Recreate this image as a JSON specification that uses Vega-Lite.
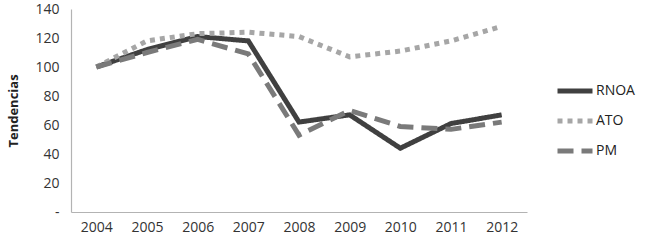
{
  "$schema": "https://vega.github.io/schema/vega-lite/v6.json",
  "autosize": {"type": "none"},
  "padding": {"left": 71, "top": 9, "right": 123, "bottom": 29},
  "width": 456,
  "height": 203,
  "background": "white",
  "config": {
    "view": {"stroke": null},
    "font": "Open Sans",
    "axis": {"grid": false, "ticks": false, "domainColor": "#b3b3b3", "domainWidth": 1.2, "labelColor": "#333333", "labelFontSize": 14, "labelFont": "Open Sans"}
  },
  "data": {
    "values": [
      {"year": "2004", "serie": "RNOA", "v": 100},
      {"year": "2005", "serie": "RNOA", "v": 112},
      {"year": "2006", "serie": "RNOA", "v": 121},
      {"year": "2007", "serie": "RNOA", "v": 118},
      {"year": "2008", "serie": "RNOA", "v": 62},
      {"year": "2009", "serie": "RNOA", "v": 67},
      {"year": "2010", "serie": "RNOA", "v": 44},
      {"year": "2011", "serie": "RNOA", "v": 61},
      {"year": "2012", "serie": "RNOA", "v": 67},
      {"year": "2004", "serie": "ATO", "v": 100},
      {"year": "2005", "serie": "ATO", "v": 118},
      {"year": "2006", "serie": "ATO", "v": 123},
      {"year": "2007", "serie": "ATO", "v": 124},
      {"year": "2008", "serie": "ATO", "v": 121},
      {"year": "2009", "serie": "ATO", "v": 107},
      {"year": "2010", "serie": "ATO", "v": 111},
      {"year": "2011", "serie": "ATO", "v": 118},
      {"year": "2012", "serie": "ATO", "v": 128},
      {"year": "2004", "serie": "PM", "v": 100},
      {"year": "2005", "serie": "PM", "v": 110},
      {"year": "2006", "serie": "PM", "v": 119},
      {"year": "2007", "serie": "PM", "v": 109},
      {"year": "2008", "serie": "PM", "v": 53},
      {"year": "2009", "serie": "PM", "v": 70},
      {"year": "2010", "serie": "PM", "v": 59},
      {"year": "2011", "serie": "PM", "v": 57},
      {"year": "2012", "serie": "PM", "v": 62}
    ]
  },
  "mark": {"type": "line", "strokeWidth": 5, "strokeCap": "butt"},
  "encoding": {
    "x": {
      "field": "year", "type": "ordinal",
      "scale": {"type": "point", "padding": 0.5},
      "axis": {"title": null, "labelAngle": 0, "labelPadding": 8}
    },
    "y": {
      "field": "v", "type": "quantitative",
      "scale": {"domain": [0, 140], "nice": false},
      "axis": {
        "title": "Tendencias", "titleFontSize": 13, "titleFontWeight": "bold", "titleColor": "#222222",
        "values": [0, 20, 40, 60, 80, 100, 120, 140],
        "labelExpr": "datum.value == 0 ? '-' : datum.label",
        "labelPadding": 12, "titlePadding": 14
      }
    },
    "color": {
      "field": "serie", "type": "nominal",
      "scale": {"domain": ["RNOA", "ATO", "PM"], "range": ["#404040", "#a6a6a6", "#7a7a7a"]},
      "legend": {
        "title": null, "orient": "none", "legendX": 484, "legendY": 62,
        "symbolType": "stroke", "symbolSize": 1225, "symbolStrokeWidth": 5,
        "labelFontSize": 14, "labelColor": "#222222", "labelOffset": 1, "rowPadding": -6
      }
    },
    "strokeDash": {
      "field": "serie", "type": "nominal",
      "scale": {"domain": ["RNOA", "ATO", "PM"], "range": [[1, 0], [5, 5], [16, 8]]},
      "legend": null
    }
  }
}
